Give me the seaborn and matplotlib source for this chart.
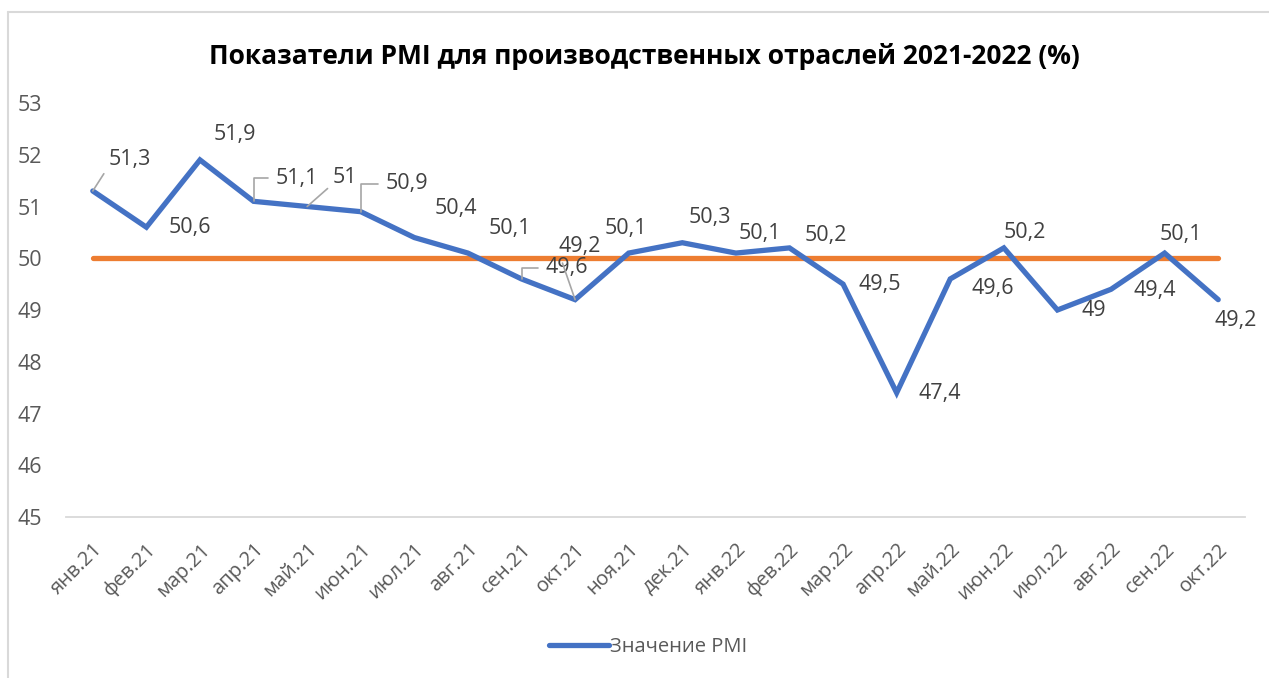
import pandas as pd
import matplotlib.pyplot as plt
import seaborn as sns
from matplotlib.lines import Line2D

months = ['янв.21', 'фев.21', 'мар.21', 'апр.21', 'май.21', 'июн.21', 'июл.21',
          'авг.21', 'сен.21', 'окт.21', 'ноя.21', 'дек.21', 'янв.22', 'фев.22',
          'мар.22', 'апр.22', 'май.22', 'июн.22', 'июл.22', 'авг.22', 'сен.22', 'окт.22']
pmi = [51.3, 50.6, 51.9, 51.1, 51.0, 50.9, 50.4, 50.1, 49.6, 49.2, 50.1,
       50.3, 50.1, 50.2, 49.5, 47.4, 49.6, 50.2, 49.0, 49.4, 50.1, 49.2]
threshold = [50, 50, 50, 50, 50, 50, 50, 50, 50, 50, 50,
             50, 50, 50, 50, 50, 50, 50, 50, 50, 50, 50]
yticks = [45, 46, 47, 48, 49, 50, 51, 52, 53]

# label offsets in pixels (dx, dy) and leader style
label_pos = [(37, 31, 'line'), (43, 0, None), (35, 25, None), (43, 23, 'angle'),
             (38, 29, 'line'), (46, 28, 'angle'), (42, 29, None), (42, 25, None),
             (45, 11, 'angle'), (5, 53, 'line'), (-3, 25, None), (28, 25, None),
             (24, 20, None), (36, 12, None), (37, 0, None), (43, -1, None),
             (42, -10, None), (21, 15, None), (36, 0, None), (44, -1, None),
             (16, 19, None), (17, -21, None)]

df = pd.DataFrame({'x': range(len(months)), 'pmi': pmi, 'thr': threshold})

sns.set_theme(style='white')
plt.rcParams['font.family'] = ['Open Sans', 'DejaVu Sans']
txt = '#595959'

fig = plt.figure(figsize=(12.69, 6.78), dpi=100)
ax = fig.add_axes([66 / 1269, 1 - 517 / 678, (1245 - 66) / 1269, (517 - 103) / 678])

sns.lineplot(data=df, x='x', y='thr', ax=ax, color='#ED7D31', linewidth=3.8,
             solid_capstyle='round')
sns.lineplot(data=df, x='x', y='pmi', ax=ax, color='#4472C4', linewidth=3.8,
             solid_capstyle='round', solid_joinstyle='miter')

for i, v in enumerate(pmi):
    dx, dy, kind = label_pos[i]
    s = f'{v:g}'.replace('.', ',')
    props = None
    if kind == 'line':
        props = dict(arrowstyle='-', color='#a6a6a6', lw=1.2, shrinkA=2, shrinkB=0,
                     relpos=(0.0, 0.2))
    elif kind == 'angle':
        props = dict(arrowstyle='-', color='#a6a6a6', lw=1.2, shrinkA=3, shrinkB=0,
                     relpos=(0.0, 0.5), connectionstyle='angle,angleA=0,angleB=90,rad=0')
    ax.annotate(s, (i, v), xytext=(dx, dy), textcoords='offset pixels',
                ha='center', va='center', fontsize=15.5, color='#404040',
                arrowprops=props)

ax.set_xlim(-0.5, len(months) - 0.5)
ax.set_ylim(45, 53)
ax.set_yticks(yticks)
ax.set_yticklabels([str(t) for t in yticks], fontsize=15.5, color=txt)
ax.set_xticks(range(len(months)))
ax.set_xticklabels(months, rotation=45, ha='right', rotation_mode='anchor',
                   fontsize=14.5, color=txt)
ax.tick_params(axis='x', pad=16, length=0)
ax.tick_params(axis='y', pad=17, length=0)
for side in ['top', 'right', 'left']:
    ax.spines[side].set_visible(False)
ax.spines['bottom'].set_color('#d9d9d9')
ax.spines['bottom'].set_linewidth(1.3)
ax.set_xlabel('')
ax.set_ylabel('')

fig.text(644 / 1269, 1 - 56 / 678, 'Показатели PMI для производственных отраслей 2021-2022 (%)',
         ha='center', va='center', fontsize=19, fontweight='bold', color='black')

handle = Line2D([], [], color='#4472C4', lw=3.8, solid_capstyle='round')
fig.legend([handle], ['Значение PMI'], loc='center', bbox_to_anchor=(648 / 1269, 1 - 647 / 678),
           frameon=False, fontsize=14.5, labelcolor=txt, handlelength=3.0, handletextpad=0.05)

# chart frame
fig.add_artist(Line2D([8 / 1269, 8 / 1269], [0, 1 - 12 / 678], color='#d9d9d9', lw=1.5))
fig.add_artist(Line2D([8 / 1269, 1], [1 - 12 / 678, 1 - 12 / 678], color='#d9d9d9', lw=1.5))

plt.savefig('out.png', dpi=100)
